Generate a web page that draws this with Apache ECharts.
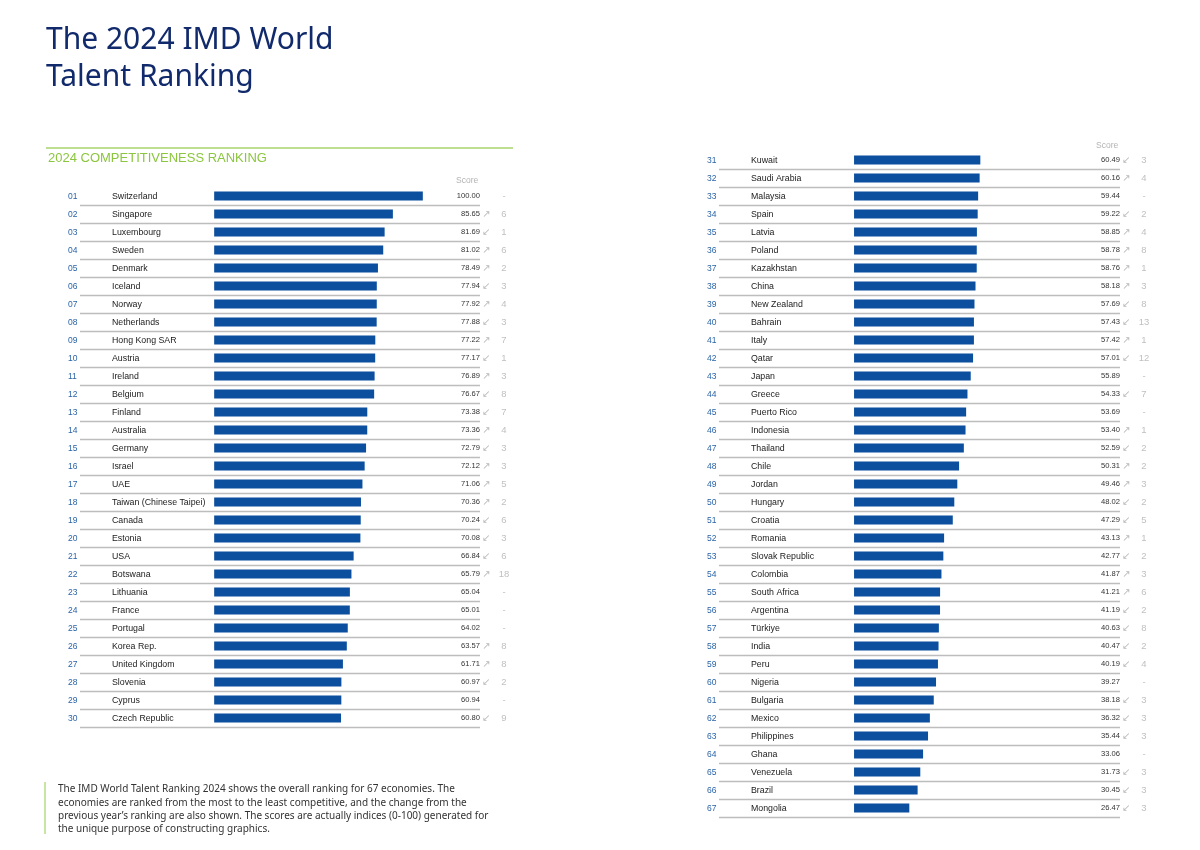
<!DOCTYPE html>
<html>
<head>
<meta charset="utf-8">
<script src="https://cdn.jsdelivr.net/npm/echarts@6/dist/echarts.min.js"></script>
<style>
html,body{margin:0;padding:0;background:#fff;}
#chart{width:1200px;height:850px;}
</style>
</head>
<body>
<div id="chart"></div>
<script>
// ---------- DATA ----------
const ranksA = ['01','02','03','04','05','06','07','08','09','10','11','12','13','14','15','16','17','18','19','20','21','22','23','24','25','26','27','28','29','30'];
const countriesA = ['Switzerland','Singapore','Luxembourg','Sweden','Denmark','Iceland','Norway','Netherlands','Hong Kong SAR','Austria','Ireland','Belgium','Finland','Australia','Germany','Israel','UAE','Taiwan (Chinese Taipei)','Canada','Estonia','USA','Botswana','Lithuania','France','Portugal','Korea Rep.','United Kingdom','Slovenia','Cyprus','Czech Republic'];
const scoresA = [100.00,85.65,81.69,81.02,78.49,77.94,77.92,77.88,77.22,77.17,76.89,76.67,73.38,73.36,72.79,72.12,71.06,70.36,70.24,70.08,66.84,65.79,65.04,65.01,64.02,63.57,61.71,60.97,60.94,60.80];
// change vs previous year: positive = moved up, negative = moved down, 0 = unchanged
const changesA = [0,6,-1,6,2,-3,4,-3,7,-1,3,-8,-7,4,-3,3,5,2,-6,-3,-6,18,0,0,0,8,8,-2,0,-9];

const ranksB = ['31','32','33','34','35','36','37','38','39','40','41','42','43','44','45','46','47','48','49','50','51','52','53','54','55','56','57','58','59','60','61','62','63','64','65','66','67'];
const countriesB = ['Kuwait','Saudi Arabia','Malaysia','Spain','Latvia','Poland','Kazakhstan','China','New Zealand','Bahrain','Italy','Qatar','Japan','Greece','Puerto Rico','Indonesia','Thailand','Chile','Jordan','Hungary','Croatia','Romania','Slovak Republic','Colombia','South Africa','Argentina','Türkiye','India','Peru','Nigeria','Bulgaria','Mexico','Philippines','Ghana','Venezuela','Brazil','Mongolia'];
const scoresB = [60.49,60.16,59.44,59.22,58.85,58.78,58.76,58.18,57.69,57.43,57.42,57.01,55.89,54.33,53.69,53.40,52.59,50.31,49.46,48.02,47.29,43.13,42.77,41.87,41.21,41.19,40.63,40.47,40.19,39.27,38.18,36.32,35.44,33.06,31.73,30.45,26.47];
const changesB = [-3,4,0,-2,4,8,1,3,-8,-13,1,-12,0,-7,0,1,-2,2,3,-2,-5,1,-2,3,6,-2,-8,-2,-4,0,-3,-3,-3,0,-3,-3,-3];

const titleText = 'The 2024 IMD World\nTalent Ranking';
const subtitleText = '2024 COMPETITIVENESS RANKING';
const noteText = 'The IMD World Talent Ranking 2024 shows the overall ranking for 67 economies. The\neconomies are ranked from the most to the least competitive, and the change from the\nprevious year\u2019s ranking are also shown. The scores are actually indices (0-100) generated for\nthe unique purpose of constructing graphics.';

// ---------- CHART ----------
const FONT = 'Liberation Sans, Arial, sans-serif';
const BAR = '#0b4f9e';
const chart = echarts.init(document.getElementById('chart'));

function sepColors(n) {
  const arr = ['rgba(0,0,0,0)'];
  for (let i = 0; i < n; i++) arr.push('#bdbdbd');
  return arr;
}

function tableAxes(gridIndex, ranks, names, scores, changes) {
  return [
    {
      type: 'category', gridIndex, inverse: true, position: 'left', data: names,
      axisLine: {show: false}, axisTick: {show: false},
      splitLine: {show: true, lineStyle: {color: sepColors(names.length), width: 1.4}},
      axisLabel: {
        interval: 0, align: 'left', margin: 12,
        formatter: (v, i) => '{r|' + ranks[i] + '}{n|' + v + '}',
        rich: {
          r: {width: 44, fontFamily: FONT, fontSize: 8.5, color: '#2a64a8', padding: [1, 0, 0, 0]},
          n: {fontFamily: FONT, fontSize: 8.8, color: '#1a1a1a', padding: [1, 0, 0, 0]}
        }
      }
    },
    {
      type: 'category', gridIndex, inverse: true, position: 'right', data: names,
      axisLine: {show: false}, axisTick: {show: false}, splitLine: {show: false},
      axisLabel: {
        interval: 0, align: 'right', margin: 0,
        formatter: (v, i) => scores[i].toFixed(2),
        fontFamily: FONT, fontSize: 7.6, color: '#333333', padding: [1, 0, 0, 0]
      }
    },
    {
      type: 'category', gridIndex, inverse: true, position: 'right', data: names,
      axisLine: {show: false}, axisTick: {show: false}, splitLine: {show: false},
      axisLabel: {
        interval: 0, align: 'left', margin: 0,
        formatter: (v, i) => {
          const c = changes[i];
          const a = c > 0 ? '\u2197' : (c < 0 ? '\u2199' : ' ');
          const t = c === 0 ? '-' : String(Math.abs(c));
          return '{a|' + a + '}{c|' + t + '}';
        },
        rich: {
          a: {width: 13, align: 'center', fontFamily: 'DejaVu Sans', fontSize: 10, color: '#b8b8b8'},
          c: {width: 22, align: 'center', fontFamily: FONT, fontSize: 9.5, color: '#c0c0c0'}
        }
      }
    }
  ];
}

const option = {
  backgroundColor: '#ffffff',
  animation: false,
  title: [
    {text: titleText, left: 46, top: 22, padding: 0,
     textStyle: {fontFamily: 'Noto Sans', fontSize: 30, fontWeight: 'normal', color: '#112a6b', lineHeight: 37}},
    {text: subtitleText, left: 48, top: 152, padding: 0,
     textStyle: {fontFamily: FONT, fontSize: 13, fontWeight: 'normal', color: '#8cc63f'}},
    {text: 'Score', left: 456, top: 176, padding: 0,
     textStyle: {fontFamily: FONT, fontSize: 8.5, fontWeight: 'normal', color: '#b3b3b3'}},
    {text: 'Score', left: 1096, top: 141, padding: 0,
     textStyle: {fontFamily: FONT, fontSize: 8.5, fontWeight: 'normal', color: '#b3b3b3'}},
    {text: noteText, left: 58, top: 783, padding: 0,
     textStyle: {fontFamily: 'Noto Sans', fontSize: 10, fontWeight: 'normal', color: '#333333', lineHeight: 13.2}}
  ],
  graphic: [
    {type: 'line', shape: {x1: 46, y1: 148, x2: 513, y2: 148}, style: {stroke: '#a8d46e', lineWidth: 1.5}, silent: true},
    {type: 'line', shape: {x1: 45, y1: 782, x2: 45, y2: 834}, style: {stroke: '#b7dc86', lineWidth: 1.5}, silent: true}
  ],
  grid: [
    {left: 80, top: 187, width: 400, height: 540},
    {left: 719, top: 151, width: 401, height: 666}
  ],
  xAxis: [
    {type: 'value', gridIndex: 0, min: -64.3, max: 127.4, show: false},
    {type: 'value', gridIndex: 1, min: -64.7, max: 127.4, show: false}
  ],
  yAxis: [].concat(
    tableAxes(0, ranksA, countriesA, scoresA, changesA),
    tableAxes(1, ranksB, countriesB, scoresB, changesB)
  ),
  series: [
    {type: 'bar', xAxisIndex: 0, yAxisIndex: 0, data: scoresA, barWidth: 9, itemStyle: {color: BAR}, silent: true},
    {type: 'bar', xAxisIndex: 1, yAxisIndex: 3, data: scoresB, barWidth: 9, itemStyle: {color: BAR}, silent: true}
  ]
};
chart.setOption(option);
</script>
</body>
</html>
